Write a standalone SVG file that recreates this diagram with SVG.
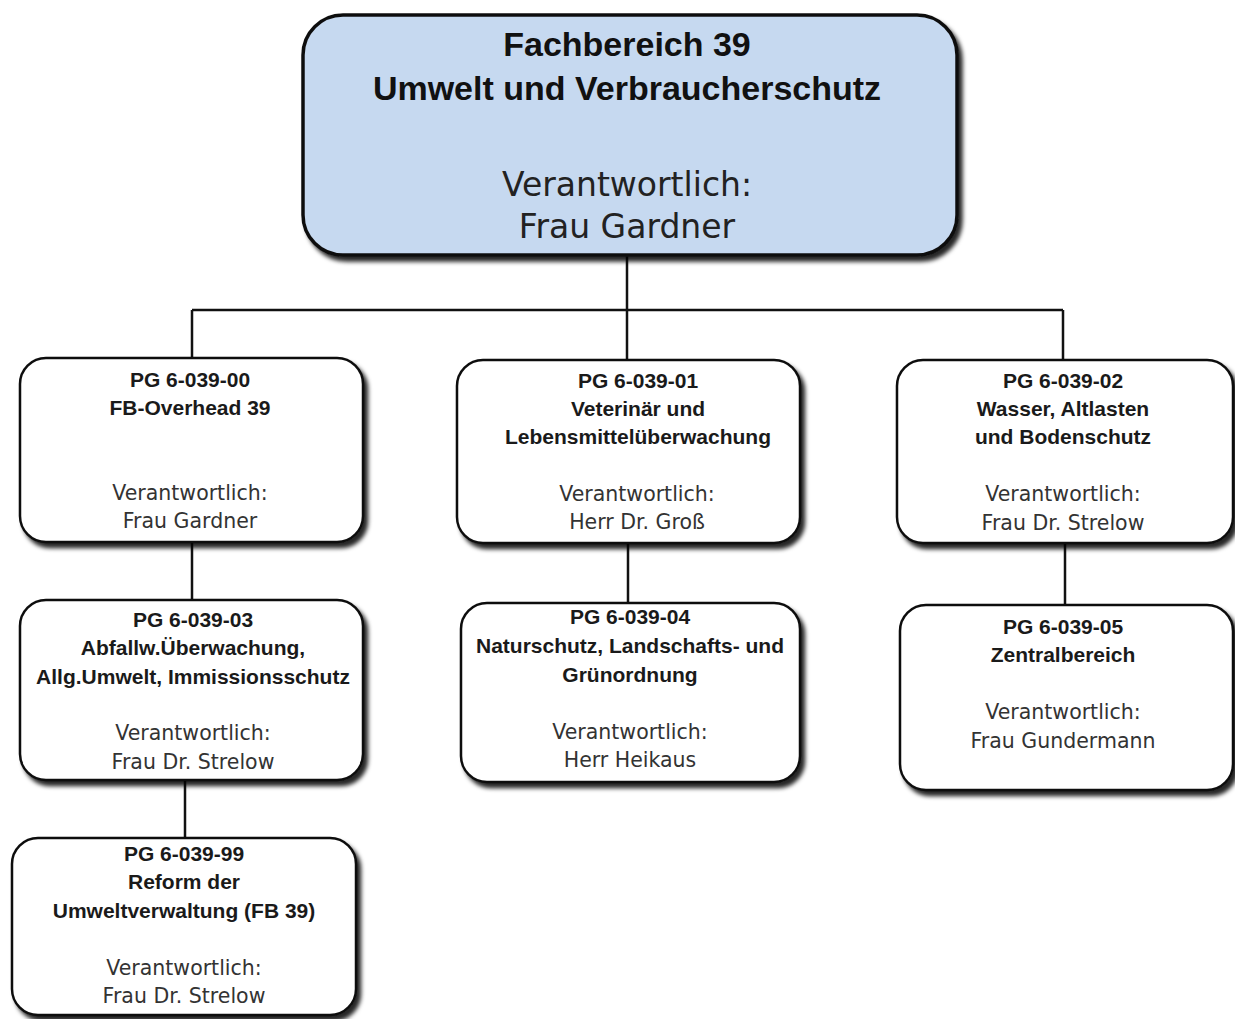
<svg xmlns="http://www.w3.org/2000/svg" width="1235" height="1019" viewBox="0 0 1235 1019">
<defs>
<filter id="sh" x="-10%" y="-10%" width="130%" height="130%">
<feDropShadow dx="4" dy="5" stdDeviation="2" flood-color="#000" flood-opacity="0.85"/>
</filter>
<style>
.box{fill:#fff;stroke:#111;stroke-width:2.5;filter:url(#sh)}
.top{fill:#c6d9f0;stroke:#111;stroke-width:3.5;filter:url(#sh)}
.b{font-family:"Liberation Sans",Arial,sans-serif;font-weight:bold;font-size:21px;fill:#1a1a1a;text-anchor:middle}
.r{font-family:"DejaVu Sans",sans-serif;font-size:20.5px;fill:#333;text-anchor:middle}
.tb{font-family:"Liberation Sans",Arial,sans-serif;font-weight:bold;font-size:34px;fill:#111;text-anchor:middle}
.tr{font-family:"DejaVu Sans",sans-serif;font-size:33px;fill:#222;text-anchor:middle}
.c{stroke:#111;stroke-width:2.5;fill:none}
</style>
</defs>
<rect width="1235" height="1019" fill="#fff"/>
<g id="connectors">
<path class="c" d="M627 255V310M192 310H1063M192 310V358M627 310V360M1063 310V360"/>
<path class="c" d="M192 542V600M628 543V603M1065 543V605M185 780V838"/>
</g>
<g id="fb39">
<rect class="top" x="303" y="15" width="654" height="240" rx="40"/>
<text class="tb" x="627" y="56">Fachbereich 39</text>
<text class="tb" x="627" y="100">Umwelt und Verbraucherschutz</text>
<text class="tr" x="627" y="196">Verantwortlich:</text>
<text class="tr" x="627" y="238">Frau Gardner</text>
</g>
<g id="pg00">
<rect class="box" x="20" y="358" width="343" height="184" rx="26"/>
<text class="b" x="190" y="387">PG 6-039-00</text>
<text class="b" x="190" y="415">FB-Overhead  39</text>
<text class="r" x="190" y="500">Verantwortlich:</text>
<text class="r" x="190" y="528">Frau Gardner</text>
</g>
<g id="pg01">
<rect class="box" x="457" y="360" width="343" height="183" rx="26"/>
<text class="b" x="638" y="388">PG 6-039-01</text>
<text class="b" x="638" y="416">Veterinär und</text>
<text class="b" x="638" y="444">Lebensmittelüberwachung</text>
<text class="r" x="637" y="501">Verantwortlich:</text>
<text class="r" x="637" y="529">Herr Dr. Groß</text>
</g>
<g id="pg02">
<rect class="box" x="897" y="360" width="336" height="183" rx="26"/>
<text class="b" x="1063" y="388">PG 6-039-02</text>
<text class="b" x="1063" y="416">Wasser, Altlasten</text>
<text class="b" x="1063" y="444">und Bodenschutz</text>
<text class="r" x="1063" y="501">Verantwortlich:</text>
<text class="r" x="1063" y="530">Frau Dr. Strelow</text>
</g>
<g id="pg03">
<rect class="box" x="20" y="600" width="343" height="180" rx="26"/>
<text class="b" x="193" y="627">PG 6-039-03</text>
<text class="b" x="193" y="655">Abfallw.Überwachung,</text>
<text class="b" x="193" y="684">Allg.Umwelt, Immissionsschutz</text>
<text class="r" x="193" y="740">Verantwortlich:</text>
<text class="r" x="193" y="769">Frau Dr. Strelow</text>
</g>
<g id="pg04">
<rect class="box" x="461" y="603" width="339" height="179" rx="26"/>
<text class="b" x="630" y="624">PG 6-039-04</text>
<text class="b" x="630" y="653">Naturschutz, Landschafts-  und</text>
<text class="b" x="630" y="682">Grünordnung</text>
<text class="r" x="630" y="739">Verantwortlich:</text>
<text class="r" x="630" y="767">Herr Heikaus</text>
</g>
<g id="pg05">
<rect class="box" x="900" y="605" width="333" height="185" rx="26"/>
<text class="b" x="1063" y="634">PG 6-039-05</text>
<text class="b" x="1063" y="662">Zentralbereich</text>
<text class="r" x="1063" y="719">Verantwortlich:</text>
<text class="r" x="1063" y="748">Frau Gundermann</text>
</g>
<g id="pg99">
<rect class="box" x="12" y="838" width="344" height="177" rx="26"/>
<text class="b" x="184" y="861">PG 6-039-99</text>
<text class="b" x="184" y="889">Reform der</text>
<text class="b" x="184" y="918">Umweltverwaltung (FB 39)</text>
<text class="r" x="184" y="975">Verantwortlich:</text>
<text class="r" x="184" y="1003">Frau Dr. Strelow</text>
</g>
</svg>
